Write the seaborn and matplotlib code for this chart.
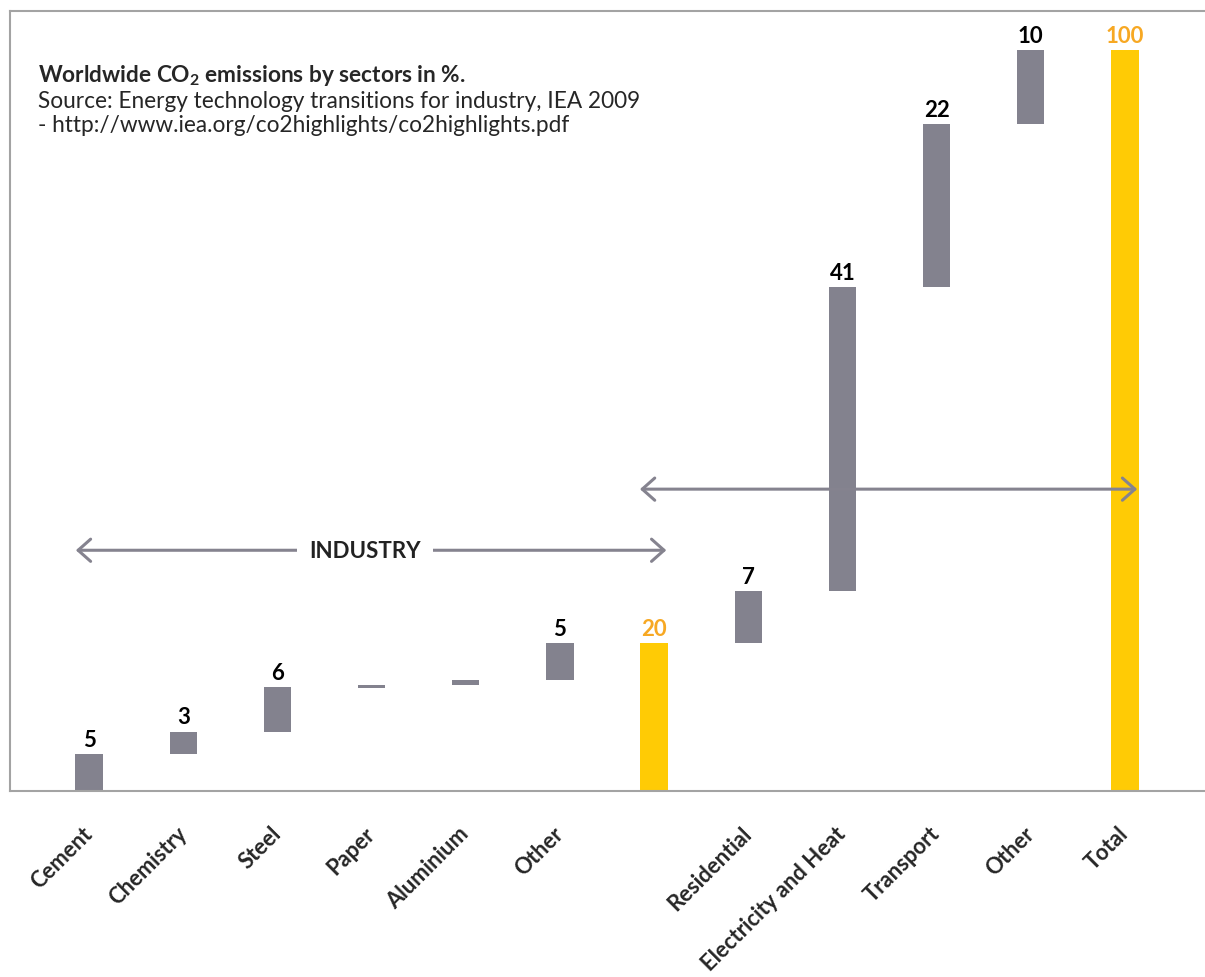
import matplotlib
matplotlib.use("Agg")
import matplotlib.pyplot as plt
import seaborn as sns
import numpy as np

# values (% of worldwide CO2 emissions)
sectors = ["Cement", "Chemistry", "Steel", "Paper", "Aluminium", "Other", "",
           "Residential", "Electricity and Heat", "Transport", "Other", "Total"]
bottoms = [0, 5, 8, 13.9, 14.3, 15, 0, 20, 27, 68, 90, 0]
heights = [5, 3, 6, 0.4, 0.7, 5, 20, 7, 41, 22, 10, 100]
value_labels = ["5", "3", "6", "", "", "5", "20", "7", "41", "22", "10", "100"]
is_total = [False, False, False, False, False, False, True,
            False, False, False, False, True]

GRAY = "#83828e"
YELLOW = "#ffcb05"
ORANGE = "#f7a823"
ARROW = "#85838f"
FRAME = "#a3a3a3"
FONT = "Lato"

sns.set_style("white")
plt.rcParams["font.family"] = [FONT, "DejaVu Sans"]
plt.rcParams["mathtext.fontset"] = "custom"
plt.rcParams["mathtext.rm"] = FONT
plt.rcParams["mathtext.bf"] = FONT + ":bold"

fig = plt.figure(figsize=(12.05, 9.78), dpi=100)
ax = fig.add_axes([10 / 1205, 186 / 978, 1195 / 1205, 780 / 978])

positions = np.arange(len(sectors))
sns.barplot(x=positions, y=heights, bottom=bottoms, width=0.29, color=GRAY,
            saturation=1, errorbar=None, ax=ax)
for patch, tot in zip(ax.patches, is_total):
    patch.set_facecolor(YELLOW if tot else GRAY)
    patch.set_edgecolor("none")

# value labels above the bars
for i, (b, h, lab, tot) in enumerate(zip(bottoms, heights, value_labels, is_total)):
    if lab:
        ax.annotate(lab, (i, b + h), xytext=(0, 6), textcoords="offset points",
                    ha="center", va="baseline", fontsize=16, fontweight="bold",
                    color=ORANGE if tot else "black")

ax.set_xlim(-0.839, 11.85)
ax.set_ylim(0, 105.3)
ax.set_yticks([])
ax.set_xticks(positions)
ax.set_xticklabels(sectors, rotation=45, ha="right", va="center",
                   rotation_mode="anchor", fontsize=15.8, fontweight="bold")
ax.tick_params(axis="x", length=0, pad=28)
ax.set_xlabel("")
ax.set_ylabel("")

for side in ["top", "left", "bottom"]:
    ax.spines[side].set_color(FRAME)
    ax.spines[side].set_linewidth(1.5)
ax.spines["right"].set_visible(False)

# brackets
arrow_kw = dict(arrowstyle="<->,head_length=0.45,head_width=0.4",
                color=ARROW, lw=2.2, mutation_scale=20, shrinkA=0, shrinkB=0)
ax.annotate("", xy=(6.13, 32.5), xytext=(-0.14, 32.5), arrowprops=arrow_kw)
ax.text(2.93, 32.5, "INDUSTRY", ha="center", va="center", fontsize=16,
        fontweight="bold", color="#222222",
        bbox=dict(facecolor="white", edgecolor="none", pad=9))
ax.annotate("", xy=(11.13, 40.75), xytext=(5.85, 40.75), arrowprops=arrow_kw)

# caption
fig.text(38 / 1205, 1 - 75 / 978,
         r"Worldwide CO$_\mathbf{2}$ emissions by sectors in %.",
         fontsize=16.3, fontweight="bold", va="center", ha="left")
fig.text(38 / 1205, 1 - 101 / 978,
         "Source: Energy technology transitions for industry, IEA 2009",
         fontsize=16.3, va="center", ha="left")
fig.text(38 / 1205, 1 - 126 / 978,
         "- http://www.iea.org/co2highlights/co2highlights.pdf",
         fontsize=16.3, va="center", ha="left")

fig.savefig("out.png", dpi=100)
